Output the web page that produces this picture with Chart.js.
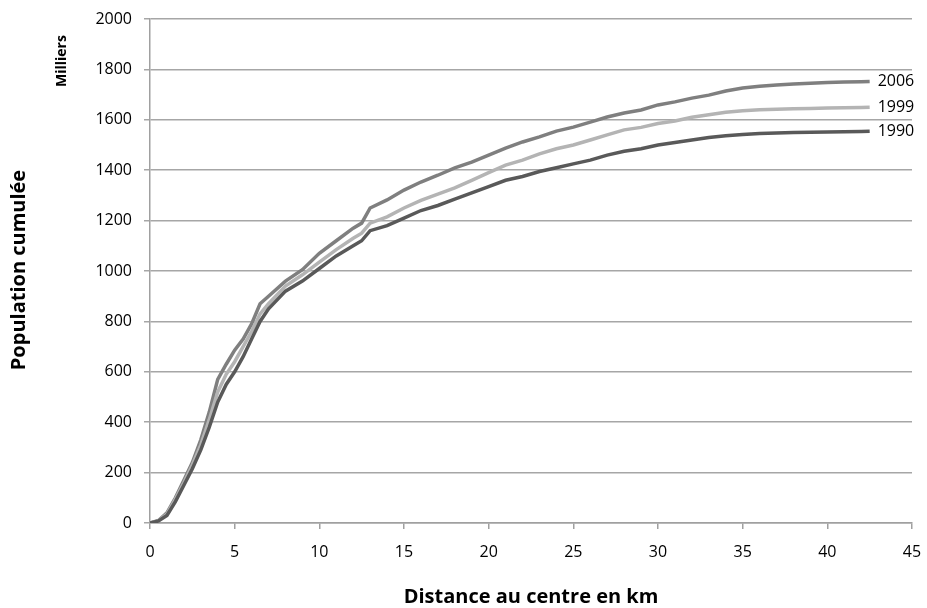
<!DOCTYPE html>
<html>
<head>
<meta charset="utf-8">
<script src="https://cdn.jsdelivr.net/npm/chart.js@4"></script>
<style>
  html, body { margin: 0; padding: 0; background: #fff; }
  #wrap { width: 927px; height: 608px; }
</style>
</head>
<body>
<div id="wrap"><canvas id="popChart" width="927" height="608"></canvas></div>
<script>
// Distance au centre (km)
const distances = [0, 0.5, 1, 1.5, 2, 2.5, 3, 3.5, 4, 4.5, 5, 5.5, 6, 6.5, 7, 8, 9, 10, 11, 12, 12.5, 13, 14, 15, 16, 17, 18, 19, 20, 21, 22, 23, 24, 25, 26, 27, 28, 29, 30, 31, 32, 33, 34, 35, 36, 37, 38, 39, 40, 41, 42, 42.5];

// Population cumulée (milliers)
const pop1990 = [0, 8, 30, 85, 150, 215, 290, 380, 480, 550, 600, 660, 730, 800, 850, 920, 960, 1010, 1060, 1100, 1120, 1160, 1180, 1210, 1240, 1260, 1285, 1310, 1335, 1360, 1375, 1395, 1410, 1425, 1440, 1460, 1475, 1485, 1500, 1510, 1520, 1530, 1537, 1542, 1546, 1548, 1550, 1551, 1552, 1553, 1554, 1555];
const pop1999 = [0, 9, 35, 95, 160, 230, 310, 410, 520, 590, 640, 700, 760, 830, 870, 940, 985, 1035, 1085, 1130, 1150, 1190, 1215, 1250, 1280, 1305, 1330, 1360, 1390, 1420, 1440, 1465, 1485, 1500, 1520, 1540, 1560, 1570, 1585, 1595, 1610, 1620, 1630, 1636, 1640, 1642, 1644, 1645, 1647, 1648, 1649, 1650];
const pop2006 = [0, 10, 40, 100, 170, 240, 330, 440, 570, 630, 686, 730, 790, 870, 900, 960, 1005, 1070, 1120, 1170, 1190, 1250, 1282, 1321, 1353, 1380, 1409, 1432, 1460, 1488, 1512, 1532, 1555, 1571, 1591, 1611, 1627, 1639, 1659, 1671, 1686, 1698, 1714, 1726, 1733, 1738, 1742, 1745, 1748, 1750, 1751, 1752];

const seriesNames = ['1990', '1999', '2006'];
const seriesColors = ['#595959', '#b4b4b4', '#7f7f7f'];

const toPoints = arr => arr.map((v, i) => ({ x: distances[i], y: v }));
const fontFam = '"Open Sans", "Liberation Sans", sans-serif';

// Titres d'axes et étiquettes de fin de courbe
const labelsPlugin = {
  id: 'labels',
  afterDraw(chart) {
    const ctx = chart.ctx;
    ctx.save();
    ctx.fillStyle = '#000';
    ctx.font = 'bold 20px ' + fontFam;
    ctx.textAlign = 'center';
    ctx.textBaseline = 'middle';
    ctx.fillText('Distance au centre en km', 531, 597);

    ctx.translate(19, 270);
    ctx.rotate(-Math.PI / 2);
    ctx.fillText('Population cumulée', 0, 0);
    ctx.restore();

    ctx.save();
    ctx.fillStyle = '#000';
    ctx.font = 'bold 14px ' + fontFam;
    ctx.textAlign = 'center';
    ctx.textBaseline = 'middle';
    ctx.translate(62, 61);
    ctx.rotate(-Math.PI / 2);
    ctx.fillText('Milliers', 0, 0);
    ctx.restore();

    ctx.save();
    ctx.fillStyle = '#000';
    ctx.font = '16px ' + fontFam;
    ctx.textAlign = 'left';
    ctx.textBaseline = 'middle';
    chart.data.datasets.forEach((ds, i) => {
      const meta = chart.getDatasetMeta(i);
      const last = meta.data[meta.data.length - 1];
      ctx.fillText(ds.label, last.x + 8, last.y);
    });
    ctx.restore();
  }
};

new Chart(document.getElementById('popChart'), {
  type: 'line',
  data: {
    datasets: [pop1990, pop1999, pop2006].map((arr, i) => ({
      label: seriesNames[i],
      data: toPoints(arr),
      borderColor: seriesColors[i],
      borderWidth: 3.5,
      pointRadius: 0,
      tension: 0,
      fill: false
    }))
  },
  options: {
    responsive: false,
    animation: false,
    layout: { padding: { top: 19, right: 15, left: 0, bottom: 0 } },
    plugins: {
      legend: { display: false },
      tooltip: { enabled: false }
    },
    scales: {
      x: {
        type: 'linear',
        min: 0,
        max: 45,
        ticks: { stepSize: 5, color: '#000', font: { size: 16, family: fontFam }, padding: 14 },
        grid: { drawOnChartArea: false, color: '#a0a0a0', lineWidth: 1.5, tickLength: 6 },
        border: { color: '#a0a0a0', width: 1.5 },
        afterFit(scale) { scale.height = 85; scale.paddingLeft = 0; scale.paddingRight = 0; }
      },
      y: {
        min: 0,
        max: 2000,
        ticks: {
          stepSize: 200, color: '#000', font: { size: 16, family: fontFam }, padding: 12,
          callback: v => String(v)
        },
        grid: { color: '#a6a6a6', lineWidth: 1.5, tickLength: 6 },
        border: { color: '#a0a0a0', width: 1.5 },
        afterFit(scale) { scale.width = 150; scale.paddingTop = 0; scale.paddingBottom = 0; }
      }
    }
  },
  plugins: [labelsPlugin]
});
</script>
</body>
</html>
